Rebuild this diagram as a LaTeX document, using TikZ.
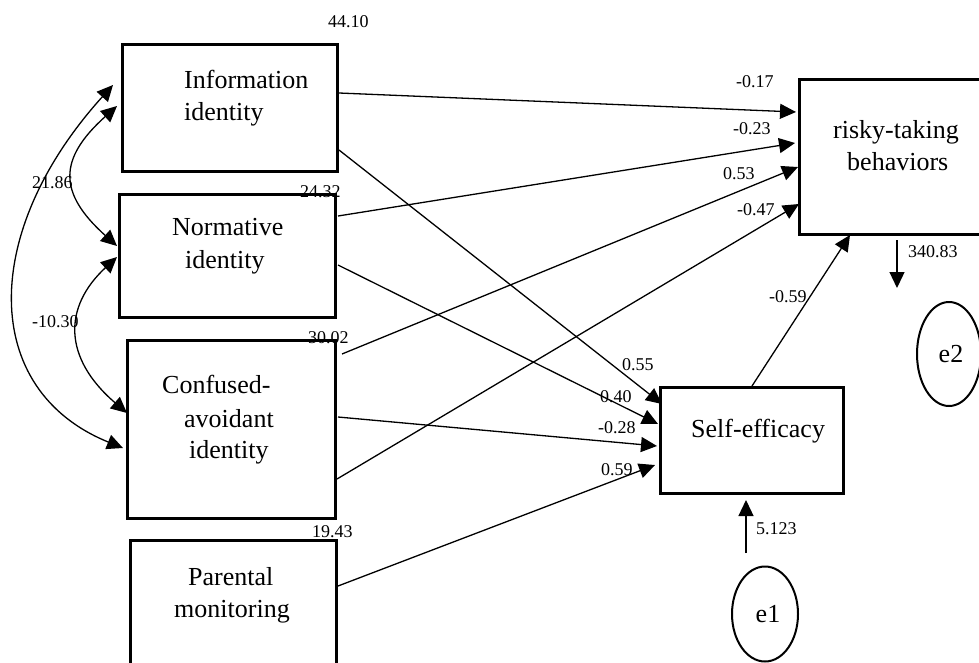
\documentclass[tikz,border=0pt]{standalone}
\usepackage{fontspec}
\setmainfont{Liberation Serif}
\usetikzlibrary{arrows.meta,calc,shapes.geometric}
\begin{document}
\begin{tikzpicture}[x=1pt,y=-1pt,
  box/.style={draw, line width=3pt, rectangle, inner sep=0pt, anchor=north west},
  big/.style={font=\fontsize{26}{30}\selectfont, inner sep=0pt, anchor=base west},
  num/.style={font=\fontsize{18}{20}\selectfont, inner sep=0pt, anchor=base west},
  errc/.style={draw, ellipse, line width=2pt, inner sep=0pt, font=\fontsize{26}{30}\selectfont},
  pathc/.style={line width=1.3pt, -{Triangle[length=16pt,width=15pt]}},
  covc/.style={line width=1.3pt, {Triangle[length=16pt,width=15pt]}-{Triangle[length=16pt,width=15pt]}}]
\useasboundingbox (0,0) rectangle (979,662);
\clip (0,0) rectangle (979,662);

% observed variables
\node[box, minimum width=215pt, minimum height=127pt] (info) at (121,43) {};
\node[box, minimum width=216pt, minimum height=123pt] (norm) at (118,193) {};
\node[box, minimum width=208pt, minimum height=178pt] (conf) at (126,339) {};
\node[box, minimum width=206pt, minimum height=160pt] (par)  at (129,539) {};
\node[box, minimum width=220pt, minimum height=155pt] (risk) at (798,78) {};
\node[box, minimum width=183pt, minimum height=106pt] (self) at (659,386) {};

% box texts
\node[big] (infoA) at (184,88) {Information};
\node[big] (infoB) at (184,120) {identity};
\node[big] (normA) at (172,235) {Normative};
\node[big] (normB) at (185,268) {identity};
\node[big] (confA) at (162,393) {Confused-};
\node[big] (confB) at (184,427) {avoidant};
\node[big] (confC) at (189,458) {identity};
\node[big] (parA)  at (188,585) {Parental};
\node[big] (parB)  at (174,617) {monitoring};
\node[big] (riskA) at (833,138) {risky-taking};
\node[big] (riskB) at (847,170) {behaviors};
\node[big] (selfA) at (691,437) {Self-efficacy};

% error terms
\node[errc, minimum width=66pt, minimum height=95pt] (e1) at (765,614) {\hspace*{6pt}e1};
\node[errc, minimum width=64pt, minimum height=104pt] (e2) at (949,354) {\hspace*{4pt}e2};

% variances
\node[num] (v1) at (328,27) {44.10};
\node[num] (v2) at (300,197) {24.32};
\node[num] (v3) at (308,343) {30.02};
\node[num] (v4) at (312,537) {19.43};

% covariances
\draw[covc] ($(info.north west)+(-8,42)$) .. controls (-20,232) and (-20,390) .. ($(conf.north west)+(-3,109)$);
\draw[covc] ($(info.north west)+(-4,63)$) .. controls (58,159) and (58,193) .. ($(norm.north west)+(-1,53)$);
\draw[covc] ($(norm.north west)+(-1,64)$) .. controls (63,307) and (63,358) .. ($(conf.north west)+(1,74)$);
\node[num] (c1) at (32,188) {21.86};
\node[num] (c2) at (32,327) {-10.30};

% paths to risky-taking behaviors
\draw[pathc] ($(info.north east)+(0,50)$) -- ($(risk.north west)+(-2,34)$);
\draw[pathc] ($(norm.north east)+(1,23)$) -- ($(risk.north west)+(-3,65)$);
\draw[pathc] ($(conf.north east)+(5,15)$) -- ($(risk.north west)+(0,89)$);
\draw[pathc] ($(conf.north east)+(0,140)$) -- ($(risk.north west)+(1,126)$);
\draw[pathc] ($(self.north west)+(93,0)$) -- ($(risk.south west)+(52,-1)$);
\node[num] (p1) at (736,87) {-0.17};
\node[num] (p2) at (733,134) {-0.23};
\node[num] (p3) at (723,179) {0.53};
\node[num] (p4) at (737,215) {-0.47};
\node[num] (p5) at (769,302) {-0.59};

% paths to self-efficacy
\draw[pathc] ($(info.north east)+(0,107)$) -- ($(self.north west)+(3,18)$);
\draw[pathc] ($(norm.north east)+(1,72)$) -- ($(self.north west)+(-1,38)$);
\draw[pathc] ($(conf.north east)+(1,78)$) -- ($(self.north west)+(-2,60)$);
\draw[pathc] ($(par.north east)+(0,47)$) -- ($(self.north west)+(-4,79)$);
\node[num] (q1) at (622,370) {0.55};
\node[num] (q2) at (600,402) {0.40};
\node[num] (q3) at (598,433) {-0.28};
\node[num] (q4) at (601,475) {0.59};

% residual arrows
\draw[pathc] ($(self.south west)+(87,58)$) -- ($(self.south west)+(87,5)$);
\node[num] (r1) at (756,534) {5.123};
\coordinate (rend) at (897,288);
\draw[pathc] ($(risk.south west)+(99,4)$) -- (rend);
\node[num] (r2) at (908,257) {340.83};
\end{tikzpicture}
\end{document}
